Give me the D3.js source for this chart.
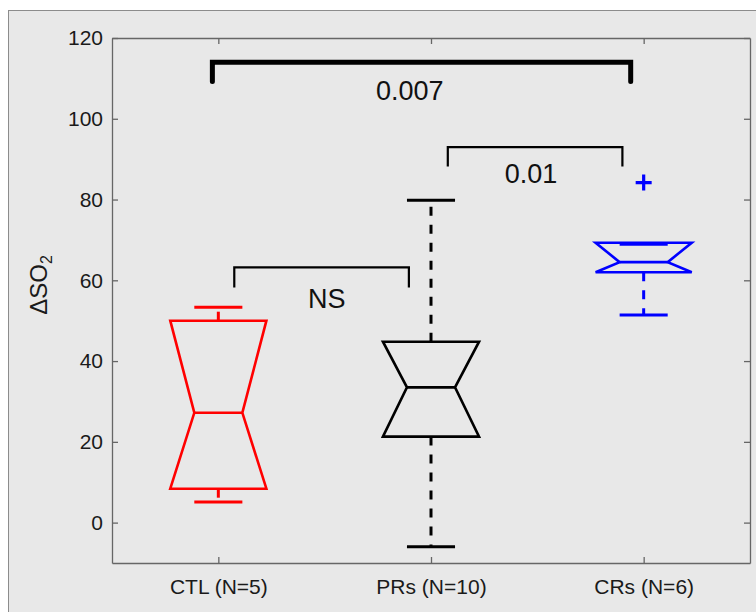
<!DOCTYPE html>
<html><head><meta charset="utf-8">
<script src="https://cdn.jsdelivr.net/npm/d3@7"></script>
<style>
html,body{margin:0;padding:0;background:#fff;}
svg{display:block;font-family:"Liberation Sans",Arial,Helvetica,sans-serif;}
</style></head>
<body>
<svg id="chart" width="756" height="612"></svg>
<script>
// ---- data ----
const categories = ["CTL (N=5)", "PRs (N=10)", "CRs (N=6)"];
const colors = ["#ff0000", "#000000", "#0000ff"];
const whiskerLow = [5.1, -6.0, 51.4];
const q1 = [8.4, 21.3, 62.0];
const medians = [27.2, 33.5, 64.5];
const q3 = [50.0, 44.8, 69.3];
const whiskerHigh = [53.3, 79.8, 68.9];
const outliers = [{group: 3, value: 84.2}];
const yTicks = [0, 20, 40, 60, 80, 100, 120];
// significance brackets
const bracketX1 = [0.972, 2.079, 1.075];
const bracketX2 = [2.939, 2.900, 1.896];
const bracketY = [114.0, 93.0, 63.2];
const bracketLeg = [109.2, 88.2, 58.2];
const bracketLabels = ["0.007", "0.01", "NS"];
const labelX = [1.90, 2.47, 1.51];
const labelY = [104.6, 84.1, 53.2];

// ---- layout ----
const svg = d3.select("#chart");
const L = 112, R = 750, T = 38, B = 563;
const x = d3.scaleLinear().domain([0.5, 3.5]).range([L, R]);
const y = d3.scaleLinear().domain([-10, 120]).range([B, T]);

// figure background
svg.append("rect").attr("x", 8.5).attr("y", 10.5).attr("width", 760).attr("height", 620)
  .attr("fill", "#e8e8e8").attr("stroke", "#8c8c8c").attr("stroke-width", 1);

// axes box
const axisColor = "#666";
const tickLen = 6;
const yAxisL = d3.axisLeft(y).tickValues(yTicks).tickSizeInner(-tickLen).tickSizeOuter(0).tickPadding(9);
const gL = svg.append("g").attr("transform", `translate(${L},0)`).call(yAxisL);
const yAxisR = d3.axisRight(y).tickValues(yTicks).tickSizeInner(-tickLen).tickSizeOuter(0).tickFormat("");
const gR = svg.append("g").attr("transform", `translate(${R},0)`).call(yAxisR);
const xAxisB = d3.axisBottom(x).tickValues([1, 2, 3]).tickSizeInner(-tickLen).tickSizeOuter(0)
  .tickFormat((d) => categories[d - 1]).tickPadding(16);
const gB = svg.append("g").attr("transform", `translate(0,${B})`).call(xAxisB);
const xAxisT = d3.axisTop(x).tickValues([1, 2, 3]).tickSizeInner(-tickLen).tickSizeOuter(0).tickFormat("");
const gT = svg.append("g").attr("transform", `translate(0,${T})`).call(xAxisT);
[gL, gR, gB, gT].forEach(g => {
  g.select(".domain").attr("stroke", axisColor).attr("stroke-width", 1.3);
  g.selectAll(".tick line").attr("stroke", axisColor).attr("stroke-width", 1.3);
  g.selectAll(".tick text").attr("fill", "#1a1a1a").style("font-size", "21px")
    .style("font-family", '"Liberation Sans",Arial,sans-serif');
});
gB.selectAll(".tick text").attr("dy", "0.71em");

// y label
svg.append("text").attr("transform", `translate(47,${285}) rotate(-90)`)
  .attr("text-anchor", "middle").attr("fill", "#1a1a1a").style("font-size", "24px")
  .text("ΔSO")
  .append("tspan").attr("dy", "0.3em").style("font-size", "16px").text("2");

// ---- boxes ----
const boxHalf = 0.226;
const notchHalf = 0.113;
const capHalf = 0.113;
const g = svg.append("g");
categories.forEach((c, i) => {
  const cx = i + 1;
  const col = colors[i];
  const pts = [
    [x(cx - boxHalf), y(q1[i])],
    [x(cx - notchHalf), y(medians[i])],
    [x(cx - boxHalf), y(q3[i])],
    [x(cx + boxHalf), y(q3[i])],
    [x(cx + notchHalf), y(medians[i])],
    [x(cx + boxHalf), y(q1[i])]
  ];
  g.append("path").attr("d", d3.line()(pts) + "Z").attr("fill", "none")
    .attr("stroke", col).attr("stroke-width", 2.6).attr("stroke-linejoin", "miter");
  g.append("line").attr("x1", x(cx - notchHalf)).attr("x2", x(cx + notchHalf))
    .attr("y1", y(medians[i])).attr("y2", y(medians[i]))
    .attr("stroke", col).attr("stroke-width", 2.6);
  [[q3[i], whiskerHigh[i]], [q1[i], whiskerLow[i]]].forEach(([a, b]) => {
    if (Math.abs(a - b) > 0.5) {
      g.append("line").attr("x1", x(cx)).attr("x2", x(cx)).attr("y1", y(a)).attr("y2", y(b))
        .attr("stroke", col).attr("stroke-width", 3).attr("stroke-dasharray", "9,9");
    }
    g.append("line").attr("x1", x(cx - capHalf)).attr("x2", x(cx + capHalf))
      .attr("y1", y(b)).attr("y2", y(b)).attr("stroke", col).attr("stroke-width", 3);
  });
});
outliers.forEach(o => {
  const px = x(o.group), py = y(o.value), s = 8;
  const col = colors[o.group - 1];
  g.append("path").attr("d", `M${px - s},${py}H${px + s}M${px},${py - s}V${py + s}`)
    .attr("stroke", col).attr("stroke-width", 3.2).attr("fill", "none");
});

// ---- brackets ----
bracketLabels.forEach((lab, i) => {
  const thick = i === 0;
  svg.append("path")
    .attr("d", `M${x(bracketX1[i])},${y(bracketLeg[i])}V${y(bracketY[i])}H${x(bracketX2[i])}V${y(bracketLeg[i])}`)
    .attr("fill", "none").attr("stroke", "#000")
    .attr("stroke-width", thick ? 5 : 2.2).attr("stroke-linecap", thick ? "round" : "butt")
    .attr("stroke-linejoin", "miter");
  svg.append("text").attr("x", x(labelX[i])).attr("y", y(labelY[i]))
    .attr("text-anchor", "middle").attr("fill", "#111").style("font-size", "27px").text(lab);
});
</script>
</body></html>
